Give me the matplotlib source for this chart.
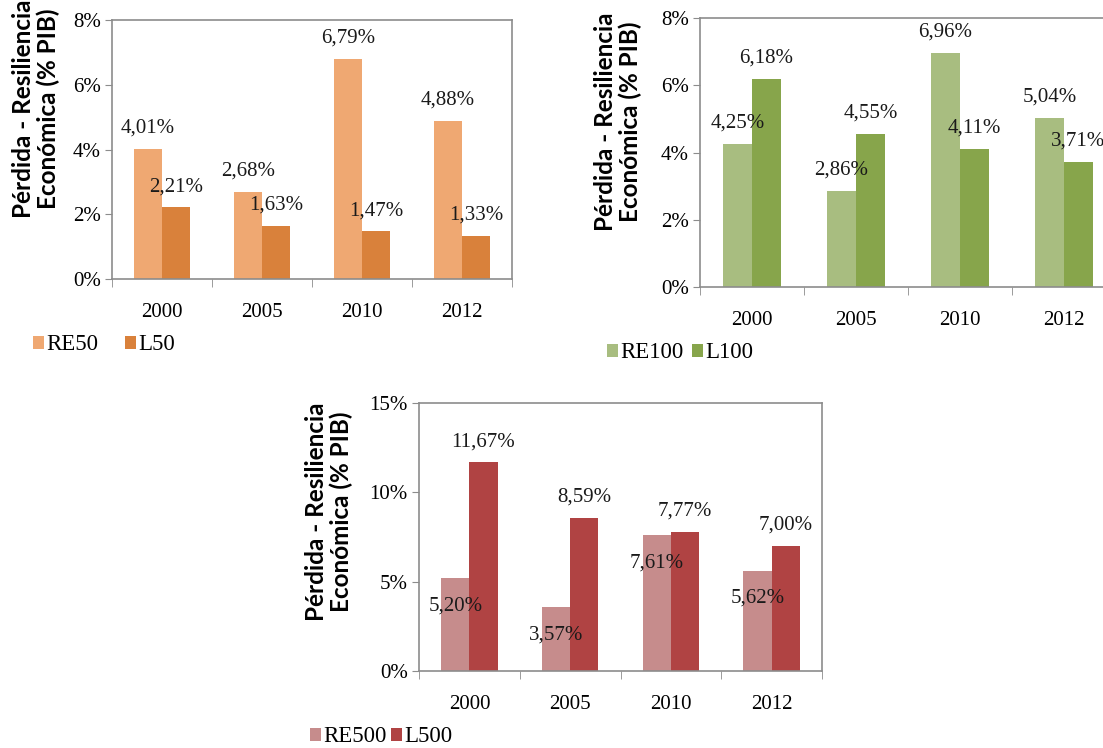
import matplotlib
matplotlib.use("Agg")
import matplotlib.pyplot as plt
import numpy as np

years = ["2000", "2005", "2010", "2012"]

re50 = [4.01, 2.68, 6.79, 4.88]
l50 = [2.21, 1.63, 1.47, 1.33]
re100 = [4.25, 2.86, 6.96, 5.04]
l100 = [6.18, 4.55, 4.11, 3.71]
re500 = [5.20, 3.57, 7.61, 5.62]
l500 = [11.67, 8.59, 7.77, 7.00]

W, H = 1103, 748
fig = plt.figure(figsize=(W / 100, H / 100), dpi=100)
fig.patch.set_facecolor("white")

SERIF = "Liberation Serif"
SANS = "Lato"
GRAY = "#8C8C8C"


def px_axes(left, right, top, bottom):
    return fig.add_axes([left / W, 1 - bottom / H, (right - left) / W, (bottom - top) / H])


def fmt(v):
    return ("%.2f%%" % v).replace(".", ",")


def draw(ax, a, b, names, colors, ymax, ystep, re_off, l_off):
    x = np.arange(len(years))
    bw = 0.28
    ba = ax.bar(x - bw / 2, a, bw, color=colors[0], label=names[0], zorder=2)
    bb = ax.bar(x + bw / 2, b, bw, color=colors[1], label=names[1], zorder=2)
    for bars, vals, off in ((ba, a, re_off), (bb, b, l_off)):
        for r, v in zip(bars, vals):
            ax.annotate(fmt(v), (r.get_x() + r.get_width() / 2, v),
                        xytext=(0, off), textcoords="offset points",
                        ha="center", va="center", fontsize=15,
                        family=SERIF, color="#1a1a1a", zorder=5)
    ax.set_xlim(-0.5, len(years) - 0.5)
    ax.set_ylim(0, ymax)
    yt = np.arange(0, ymax + 0.001, ystep)
    ax.set_yticks(yt)
    ax.set_yticklabels(["%d%%" % t for t in yt], family=SERIF, fontsize=15)
    ax.set_xticks(x)
    ax.set_xticklabels(years, family=SERIF, fontsize=15)
    ax.set_xticks(np.arange(-0.5, len(years)), minor=True)
    ax.tick_params(axis="x", which="major", length=0, pad=17)
    ax.tick_params(axis="x", which="minor", length=6, color=GRAY, direction="out")
    ax.tick_params(axis="y", length=5, color=GRAY, direction="out", pad=3)
    for s in ax.spines.values():
        s.set_color(GRAY)
        s.set_linewidth(1.2)
    ax.set_facecolor("white")


def ylabel(xc, yc):
    fig.text(xc / W, 1 - yc / H, "Pérdida - Resiliencia\nEconómica (% PIB)",
             rotation=90, ha="center", va="center", fontsize=17.5,
             family=SANS, weight="bold", linespacing=1.05)


def legend(ax, x0, yc, colsp):
    ax.legend(loc="center left", bbox_to_anchor=(x0 / W, 1 - yc / H),
              bbox_transform=fig.transFigure, ncol=2, frameon=False,
              prop={"family": SERIF, "size": 16.5}, handlelength=0.48,
              handleheight=0.48, handletextpad=0.1, columnspacing=colsp,
              borderpad=0, borderaxespad=0)


ax1 = px_axes(112, 512, 20, 279)
draw(ax1, re50, l50, ["RE50", "L50"], ["#EFA872", "#D9813B"], 8, 2, 15, 15)
ylabel(36, 109)
legend(ax1, 33, 345, 1.15)

ax2 = px_axes(700, 1116, 18, 287)
draw(ax2, re100, l100, ["RE100", "L100"], ["#A8BD80", "#87A54B"], 8, 2, 15, 15)
ylabel(618, 122)
legend(ax2, 607, 353, 0.35)

ax3 = px_axes(419, 822, 403, 671)
draw(ax3, re500, l500, ["RE500", "L500"], ["#C68C8C", "#B04343"], 15, 5, -20, 15)
ylabel(329, 512)
legend(ax3, 310, 737, 0.17)

fig.savefig("out.png", dpi=100, facecolor="white")
